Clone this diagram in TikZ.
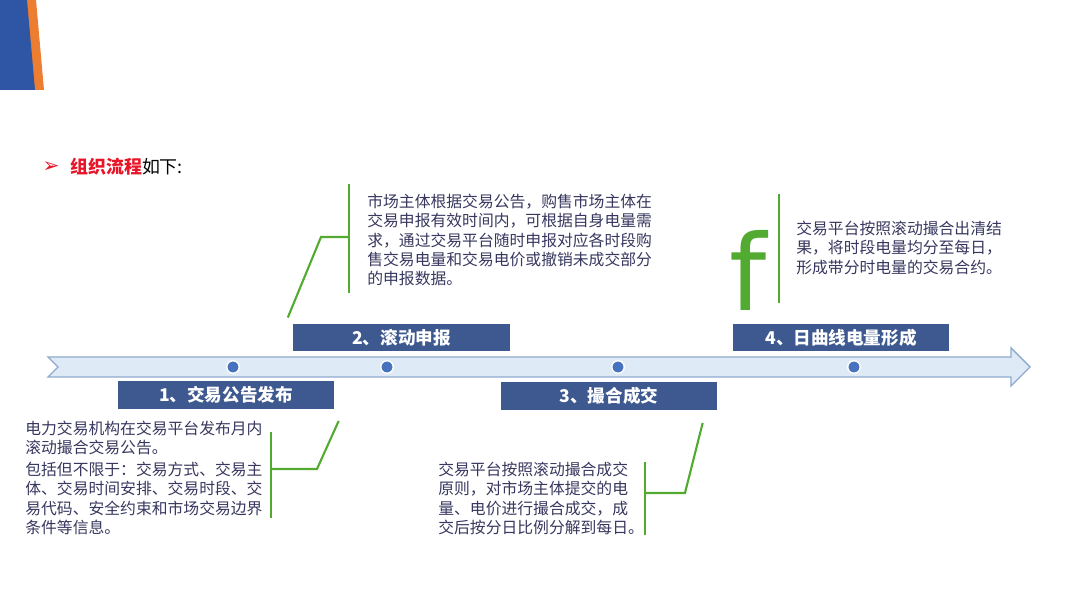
\documentclass[tikz,border=0pt]{standalone}
\usepackage{fontspec}
\setmainfont{Noto Sans CJK SC}
\newfontfamily\symfont{DejaVu Sans}
\newfontfamily\latinfont{DejaVu Sans}
\usetikzlibrary{positioning,calc}

\definecolor{stepblue}{RGB}{61,89,143}
\definecolor{barfill}{RGB}{222,235,247}
\definecolor{barline}{RGB}{143,170,207}
\definecolor{dotblue}{RGB}{70,114,190}
\definecolor{linegreen}{RGB}{82,170,48}
\definecolor{bodytext}{RGB}{55,55,95}
\definecolor{titlered}{RGB}{232,20,40}
\definecolor{decoblue}{RGB}{47,85,165}
\definecolor{decoorange}{RGB}{237,125,49}

\begin{document}
\begin{tikzpicture}[x=0.02cm, y=-0.02cm,
    stepbox/.style={draw=white, line width=0.8pt, fill=stepblue, text=white,
      font=\fontsize{10}{12}\selectfont\bfseries, minimum width=4.36cm,
      minimum height=0.57cm, inner sep=0pt},
    desc/.style={anchor=north west, inner sep=0pt, align=left, text=bodytext,
      font=\fontsize{9}{10.9}\selectfont},
    bracket/.style={draw=linegreen, line width=1.2pt},
    dot/.style={circle, fill=dotblue, draw=white, line width=0.8pt,
      minimum size=0.25cm, inner sep=0pt}]
    \useasboundingbox (0,0) rectangle (1080,607);
    % corner decoration
    \fill[decoorange] (0,0) -- (36,0) -- (44,90) -- (0,90) -- cycle;
    \fill[decoblue] (0,0) -- (27,0) -- (35,90) -- (0,90) -- cycle;
    % heading
    \node[text=titlered, font=\symfont\fontsize{11.5}{12}\selectfont] (bullet) at (51,167) {➢};
    \node[anchor=west, inner sep=0pt, font=\fontsize{10.2}{12}\selectfont] (title) at (70,167)
      {\textcolor{titlered}{\bfseries 组织流程}如下:};
    % time line
    \draw[draw=barline, fill=barfill, line width=0.8pt] (48,357) -- (1011,357) -- (1011,348)
      -- (1030,367) -- (1011,386) -- (1011,377) -- (48,377) -- (58,367) -- cycle;
    \node[dot] (dot1) at (233,367) {};
    \node[dot] (dot2) at (387,367) {};
    \node[dot] (dot3) at (618,367) {};
    \node[dot] (dot4) at (854,367) {};
    % steps
    \node[stepbox] (publish) at (226,395) {1、交易公告发布};
    \node[stepbox] (declare) at (401.5,337.5) {2、滚动申报};
    \node[stepbox] (match) at (609,396) {3、撮合成交};
    \node[stepbox] (daily) at (841,337.5) {4、日曲线电量形成};
    % descriptions
    \node[desc] (publishtxt) at (25,421) {电力交易机构在交易平台发布月内\\滚动撮合交易公告。\\[1.5pt]
      包括但不限于：交易方式、交易主\\体、交易时间安排、交易时段、交\\
      易代码、安全约束和市场交易边界\\条件等信息。};
    \node[desc] (declaretxt) at (367,194) {市场主体根据交易公告，购售市场主体在\\
      交易申报有效时间内，可根据自身电量需\\求，通过交易平台随时申报对应各时段购\\
      售交易电量和交易电价或撤销未成交部分\\的申报数据。};
    \node[desc] (matchtxt) at (438,462) {交易平台按照滚动撮合成交\\原则，对市场主体提交的电\\
      量、电价进行撮合成交，成\\交后按分日比例分解到每日。};
    \node[desc] (dailytxt) at (796,221) {交易平台按照滚动撮合出清结\\果，将时段电量均分至每日，\\
      形成带分时电量的交易合约。};
    \node[anchor=base west, inner sep=0pt, text=linegreen,
      font=\latinfont\fontsize{60}{60}\selectfont] (fmark) at (729,311) {f};
    % brackets
    \coordinate (publishtop) at (271,432);
    \coordinate (publishbot) at (271,518);
    \coordinate (publishmid) at (271,469);
    \coordinate (publishbend) at (317,469);
    \draw[bracket] (publishtop) -- (publishbot);
    \draw[bracket] ($(publish.south east)+(3,11)$) -- (publishbend) -- (publishmid);
    \coordinate (declaretop) at (349,184);
    \coordinate (declarebot) at (349,293);
    \coordinate (declaremid) at (349,237);
    \coordinate (declarebend) at (321,237);
    \draw[bracket] (declaretop) -- (declarebot);
    \draw[bracket] ($(declare.north west)+(-4,-5)$) -- (declarebend) -- (declaremid);
    \coordinate (matchtop) at (645,462);
    \coordinate (matchbot) at (645,535);
    \coordinate (matchmid) at (645,493);
    \coordinate (matchbend) at (685,493);
    \draw[bracket] (matchtop) -- (matchbot);
    \draw[bracket] ($(match.south east)+(-16,12)$) -- (matchbend) -- (matchmid);
    \coordinate (dailytop) at (779,194);
    \coordinate (dailybot) at (779,303);
    \draw[bracket] (dailytop) -- (dailybot);
  \end{tikzpicture}
\end{document}
